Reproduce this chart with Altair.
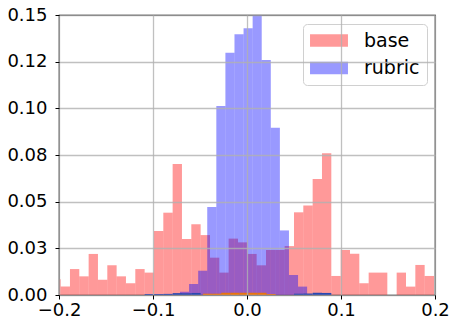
import json
import altair as alt
import pandas as pd

# ---- data ----
base_start = -0.2082
base_width = 0.00993
base_vals = [0.0084, 0.0045, 0.0139, 0.0100, 0.0220, 0.0082, 0.0159, 0.0100, 0.0063, 0.0139,
             0.0120, 0.0343, 0.0441, 0.0702, 0.0300, 0.0379, 0.0321, 0.0200, 0.0120, 0.0302,
             0.0282, 0.0220, 0.0159, 0.0241, 0.0241, 0.0262, 0.0443, 0.0480, 0.0621, 0.0760,
             0.0102, 0.0241, 0.0221, 0.0063, 0.0120, 0.0120, 0.0000, 0.0120, 0.0045, 0.0161,
             0.0102]

rubric_start = -0.07128
rubric_width = 0.00966
rubric_vals = [0.0017, 0.0059, 0.0130, 0.0471, 0.1013, 0.1298, 0.1397, 0.1429, 0.1560,
               0.1259, 0.0896, 0.0346, 0.0107, 0.0045]

orange_start = -0.0468
orange_width = 0.00966
orange_vals = [0.0007, 0.0007, 0.0012, 0.0012, 0.0012, 0.0012, 0.0012, 0.0005]

navy_start = -0.1089
navy_width = 0.00993
navy_vals = [0.0005, 0.0005, 0.0006, 0.0010, 0.0010, 0.0011,
             0, 0, 0, 0, 0, 0, 0, 0, 0, 0,
             0.0007, 0.0008, 0.0012, 0.0011]

series_names = ["base", "rubric"]
x_ticks = [-0.2, -0.1, 0.0, 0.1, 0.2]
x_tick_labels = ["\u22120.2", "\u22120.1", "0.0", "0.1", "0.2"]
y_ticks = [0.0, 0.025, 0.05, 0.075, 0.1, 0.125, 0.15]
y_tick_labels = ["0.00", "0.03", "0.05", "0.08", "0.10", "0.12", "0.15"]


def hist_frame(start, width, vals, name):
    n = len(vals)
    return pd.DataFrame({
        "lo": [start + i * width for i in range(n)],
        "hi": [start + (i + 1) * width for i in range(n)],
        "v": vals,
        "series": [name] * n,
    })


base_df = hist_frame(base_start, base_width, base_vals, "base")
rubric_df = hist_frame(rubric_start, rubric_width, rubric_vals, "rubric")
orange_df = hist_frame(orange_start, orange_width, orange_vals, "o")
navy_df = hist_frame(navy_start, navy_width, navy_vals, "n")

FONT = "DejaVu Sans"

x_axis = alt.Axis(values=x_ticks, title=None, grid=True,
                  labelExpr="%s[indexof(%s, round(datum.value*10))]" % (
                      json.dumps(x_tick_labels), json.dumps([round(v * 10) for v in x_ticks])),
                  labelFont=FONT, labelFontSize=18, labelColor="black",
                  labelPadding=2, labelFlush=False, labelOverlap=False,
                  tickSize=4, tickColor="black", tickWidth=1,
                  domain=False, gridColor="#b0b0b0", gridWidth=1.3, gridOpacity=0.8,
                  zindex=1)
y_axis = alt.Axis(values=y_ticks, title=None, grid=True,
                  labelExpr="%s[round(datum.value*40)]" % json.dumps(y_tick_labels),
                  labelFont=FONT, labelFontSize=18, labelColor="black",
                  labelPadding=8, labelFlush=False, labelOverlap=False,
                  tickSize=4, tickColor="black", tickWidth=1,
                  domain=False, gridColor="#b0b0b0", gridWidth=1.3, gridOpacity=0.8,
                  zindex=1)

x_enc = alt.X("lo:Q", scale=alt.Scale(domain=[-0.2, 0.2], nice=False, zero=False), axis=x_axis)
y_enc = alt.Y("v:Q", scale=alt.Scale(domain=[0, 0.15], nice=False), axis=y_axis)

color_enc = alt.Color(
    "series:N",
    scale=alt.Scale(domain=series_names, range=["#ff0000", "#0000ff"]),
    legend=alt.Legend(
        title=None, orient="none", legendX=244, legendY=9,
        symbolType="M-2.92,-0.95H2.92V0.95H-2.92Z", symbolSize=169,
        symbolOpacity=0.4, symbolStrokeWidth=0,
        symbolOffset=9.5, labelOffset=25.5, labelAlign="left",
        labelFont=FONT, labelFontSize=19, labelColor="black",
        padding=7, rowPadding=7.5,
        fillColor="rgba(255,255,255,0.8)", strokeColor="#d0d0d0", cornerRadius=4,
    ),
)

def layer(df, **mark):
    return alt.Chart(df).mark_rect(clip=True, **mark)

base_layer = layer(base_df, opacity=0.4).encode(
    x=x_enc, x2="hi:Q", y=y_enc, y2=alt.datum(0), color=color_enc)
rubric_layer = layer(rubric_df, opacity=0.4).encode(
    x=x_enc, x2="hi:Q", y=y_enc, y2=alt.datum(0), color=color_enc)
orange_layer = layer(orange_df, color="#e8740f").encode(
    x=x_enc, x2="hi:Q", y=y_enc, y2=alt.datum(0))
navy_layer = layer(navy_df, color="#2a48b0").encode(
    x=x_enc, x2="hi:Q", y=y_enc, y2=alt.datum(0))

chart = alt.layer(base_layer, rubric_layer, orange_layer, navy_layer).properties(
    width=376, height=280,
    autosize=alt.AutoSizeParams(type="none"),
    padding={"left": 59, "top": 15, "right": 16, "bottom": 28},
    background="white",
).configure_view(stroke="black", strokeWidth=1.2)

chart.save("out.html", embed_options={"renderer": "svg", "actions": False})
